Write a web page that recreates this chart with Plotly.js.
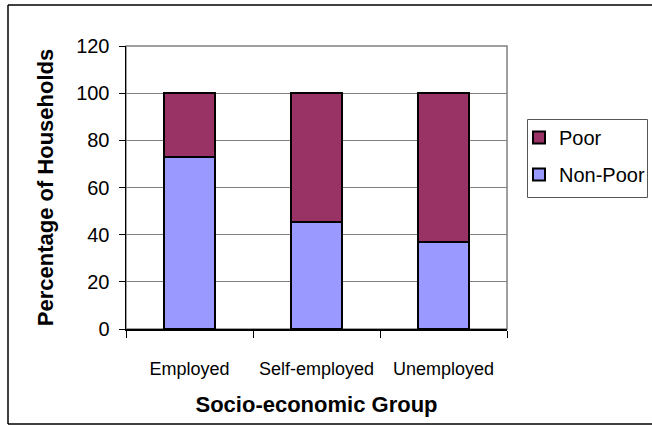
<!DOCTYPE html>
<html>
<head>
<meta charset="utf-8">
<script src="https://cdn.plot.ly/plotly-3.0.1.min.js"></script>
<style>
  html, body { margin: 0; padding: 0; background: #fff; overflow: hidden; }
  #chart { width: 652px; height: 426px; }
</style>
</head>
<body>
<div id="chart"></div>
<script>
// Data
const categories = ["Employed", "Self-employed", "Unemployed"];
const nonPoor = [73, 45.5, 37];
const poor = [27, 54.5, 63];
const yTicks = [0, 20, 40, 60, 80, 100, 120];

const L = 126, R = 145, T = 46, B = 97;
const W = 652, H = 426;
const pw = W - L - R, ph = H - T - B;
const px = x => (x - L) / pw;
const py = y => (H - B - y) / ph;

const barLine = { color: "#000000", width: 2 };

const traces = [
  {
    type: "bar", name: "Non-Poor", x: categories, y: nonPoor,
    marker: { color: "#9999FF", line: barLine }, legendgroup: "np", legendrank: 2
  },
  {
    type: "bar", name: "Poor", x: categories, y: poor,
    marker: { color: "#993366", line: barLine }, legendgroup: "p", legendrank: 1
  }
];

const layout = {
  width: W, height: H,
  margin: { l: L, r: R, t: T, b: B, pad: 0, autoexpand: false },
  paper_bgcolor: "#ffffff",
  plot_bgcolor: "#ffffff",
  barmode: "stack",
  bargap: 0.6,
  font: { family: "Liberation Sans, Arial, sans-serif", color: "#000" },
  showlegend: true,
  legend: {
    xref: "container", yref: "container",
    x: 519 / W, xanchor: "left",
    y: 1 - 118 / H, yanchor: "top",
    traceorder: "grouped",
    tracegroupgap: 8,
    borderwidth: 0,
    bgcolor: "rgba(0,0,0,0)",
    font: { size: 20, family: "Liberation Sans, Arial, sans-serif" },
    itemwidth: 30
  },
  xaxis: {
    type: "category",
    range: [-0.5, 2.5],
    showline: true, linecolor: "#000", linewidth: 1.5,
    ticks: "outside", tickson: "boundaries", ticklen: 7, tickcolor: "#000", tickwidth: 1,
    showgrid: false, zeroline: false,
    tickangle: 0,
    tickfont: { size: 18, family: "Liberation Sans Narrow, Arial Narrow, Liberation Sans, sans-serif" },
    ticklabelstandoff: 23,
    title: {
      text: "Socio-economic Group",
      font: { size: 22, family: "Liberation Sans, Arial, sans-serif", weight: "bold" },
      standoff: 18
    },
    automargin: false,
    fixedrange: true
  },
  yaxis: {
    range: [0, 120],
    tickvals: yTicks,
    ticktext: yTicks.map(String),
    showline: true, linecolor: "#000", linewidth: 1.5,
    ticks: "outside", ticklen: 6, tickcolor: "#000", tickwidth: 1,
    showgrid: true, gridcolor: "#808080", gridwidth: 1,
    zeroline: false,
    tickfont: { size: 20 },
    ticklabelstandoff: 5,
    title: {
      text: "Percentage of Households",
      font: { size: 22, family: "Liberation Sans, Arial, sans-serif", weight: "bold" },
      standoff: 16
    },
    automargin: false,
    fixedrange: true
  },
  shapes: [
    // plot area frame
    { type: "rect", xref: "paper", yref: "paper", x0: 0, x1: 1, y0: 0, y1: 1,
      line: { color: "#808080", width: 1.5 }, layer: "below" },
    // legend frame
    { type: "rect", xref: "paper", yref: "paper",
      x0: px(527.5), x1: px(647.5), y0: py(197.5), y1: py(119.5),
      line: { color: "#555555", width: 1 }, layer: "below" },
    // outer chart border (left, top, bottom; right edge is off the picture)
    { type: "line", xref: "paper", yref: "paper", x0: px(8), x1: px(8), y0: py(424), y1: py(5),
      line: { color: "#000", width: 1.5 } },
    { type: "line", xref: "paper", yref: "paper", x0: px(8), x1: px(660), y0: py(5), y1: py(5),
      line: { color: "#000", width: 1.5 } },
    { type: "line", xref: "paper", yref: "paper", x0: px(8), x1: px(660), y0: py(424), y1: py(424),
      line: { color: "#000", width: 1.5 } }
  ]
};

Plotly.newPlot("chart", traces, layout, { displayModeBar: false, staticPlot: true });
</script>
</body>
</html>
